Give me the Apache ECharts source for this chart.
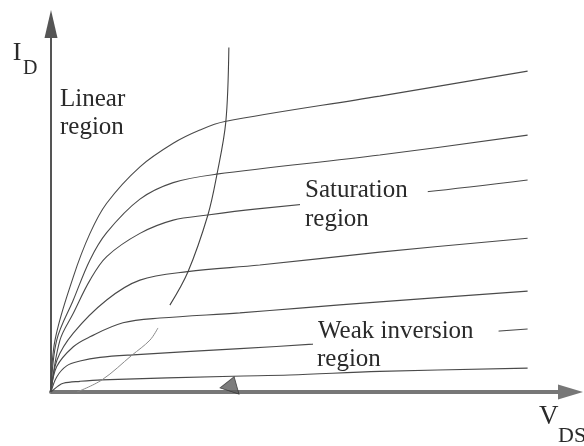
<!DOCTYPE html>
<html>
<head>
<meta charset="utf-8">
<script src="https://cdn.jsdelivr.net/npm/echarts@6/dist/echarts.min.js"></script>
<style>
  html, body { margin: 0; padding: 0; background: #fff; }
  #chart { width: 584px; height: 446px; }
</style>
</head>
<body>
<div id="chart"></div>
<script>
// MOSFET output characteristics: I_D versus V_DS for stepped gate voltages
// (arbitrary units, highest gate voltage first). Points are [V_DS, I_D].
const curveVgs7 = [[0,0],[0.042,14.1],[0.234,31.3],[0.409,43.1],[0.584,51.3],[0.933,61.2],[1.282,67.6],[1.562,71.2],[1.824,73.5],[3.449,80.4],[5.0,87.2]];
const curveVgs6 = [[0,0],[0.06,14.1],[0.234,25.0],[0.409,35.9],[0.584,43.3],[0.933,52.4],[1.282,56.9],[1.737,59.2],[3.449,64.4],[5.0,69.8]];
const curveVgs5 = [[0,0],[0.094,14.1],[0.234,21.4],[0.409,30.4],[0.584,36.8],[0.933,43.1],[1.282,46.7],[1.643,48.1],[2.138,49.7],[3.941,54.4],[5.0,57.6]];
const curveVgs4 = [[0,0],[0.063,8.7],[0.234,16.0],[0.584,25.0],[0.933,30.4],[1.433,32.7],[2.19,34.5],[3.449,38.0],[5.0,41.8]];
const curveVgs3 = [[0,0],[0.06,6.9],[0.234,12.3],[0.409,15.0],[0.755,18.8],[1.143,20.1],[1.981,21.5],[2.61,22.8],[3.449,24.5],[5.0,27.4]];
const curveVgs2 = [[0,0],[0.06,4.1],[0.164,7.1],[0.304,8.4],[0.514,9.4],[0.86,10.1],[1.981,11.8],[2.746,13.0],[5.0,17.1]];
const curveVgs1 = [[0,0],[0.073,1.6],[0.129,2.4],[0.304,2.9],[0.531,3.3],[1.908,4.3],[2.505,4.6],[3.449,5.6],[5.0,6.5]];

// Boundary between linear and saturation operation (V_DS = V_GS - V_T)
const boundaryUpper = [[1.247,23.6],[1.436,32.6],[1.646,48.1],[1.74,59.0],[1.834,73.4],[1.866,93.6]];
const boundaryLower = [[0.273,0],[0.535,3.3],[0.849,10.0],[1.038,14.1],[1.122,17.4]];

// Small arrowhead resting on the V_DS axis
const axisPointer = [[1.897,2.2]];

const outputCurves = [curveVgs7, curveVgs6, curveVgs5, curveVgs4, curveVgs3, curveVgs2, curveVgs1];

const serif = '"Liberation Serif", "DejaVu Serif", serif';
const ink = '#2a2a2a';

const chart = echarts.init(document.getElementById('chart'), null, { renderer: 'canvas' });

const series = outputCurves.map(function (pts) {
  return {
    type: 'line',
    data: pts,
    smooth: 0.35,
    symbol: 'none',
    silent: true,
    lineStyle: { color: '#4a4a4a', width: 1.1 },
    z: 2
  };
});

series.push({
  type: 'line', data: boundaryUpper, smooth: 0.35,
  symbol: 'none', silent: true, lineStyle: { color: '#444', width: 1.1 }, z: 2
});
series.push({
  type: 'line', data: boundaryLower, smooth: 0.35,
  symbol: 'none', silent: true, lineStyle: { color: '#8a8a8a', width: 1 }, z: 2
});
series.push({
  type: 'scatter', data: axisPointer, symbol: 'triangle',
  symbolSize: [20, 15], symbolRotate: -18, silent: true,
  itemStyle: { color: '#5c5c5c', borderColor: '#333', borderWidth: 0.8 }, z: 4
});

chart.setOption({
  animation: false,
  backgroundColor: '#fff',
  grid: { left: 51, right: 13.5, top: 24, bottom: 54 },
  xAxis: {
    type: 'value', min: 0, max: 5.45,
    axisLine: {
      show: true, onZero: false,
      symbol: ['none', 'triangle'], symbolSize: [15, 25],
      lineStyle: { color: '#777', width: 4 }
    },
    axisTick: { show: false }, axisLabel: { show: false }, splitLine: { show: false }
  },
  yAxis: {
    type: 'value', min: 0, max: 100,
    axisLine: {
      show: true, onZero: false,
      symbol: ['none', 'triangle'], symbolSize: [13, 28],
      lineStyle: { color: '#555', width: 2 }
    },
    axisTick: { show: false }, axisLabel: { show: false }, splitLine: { show: false }
  },
  series: series,
  graphic: [
    { type: 'text', x: 12.7, y: 40, z: 10,
      style: { text: 'I', font: '26px ' + serif, fill: ink, textVerticalAlign: 'top' } },
    { type: 'text', x: 23, y: 59, z: 10,
      style: { text: 'D', font: '20px ' + serif, fill: ink, textVerticalAlign: 'top' } },
    { type: 'text', x: 539, y: 403, z: 10,
      style: { text: 'V', font: '27px ' + serif, fill: ink, textVerticalAlign: 'top' } },
    { type: 'text', x: 558, y: 425, z: 10,
      style: { text: 'DS', font: '22px ' + serif, fill: ink, textVerticalAlign: 'top' } },
    { type: 'text', x: 60, y: 85.5, z: 10,
      style: { text: 'Linear\nregion', font: '25px ' + serif, lineHeight: 28, fill: ink, textVerticalAlign: 'top' } },
    { type: 'text', x: 300, y: 175, z: 10,
      style: { text: 'Saturation', font: '25px ' + serif, fill: ink, textVerticalAlign: 'top',
               backgroundColor: '#fff', padding: [3, 20, 5, 5] } },
    { type: 'text', x: 305, y: 207, z: 10,
      style: { text: 'region', font: '25px ' + serif, fill: ink, textVerticalAlign: 'top' } },
    { type: 'text', x: 313, y: 316, z: 10,
      style: { text: 'Weak inversion', font: '25px ' + serif, fill: ink, textVerticalAlign: 'top',
               backgroundColor: '#fff', padding: [3, 25, 5, 5] } },
    { type: 'text', x: 317, y: 347, z: 10,
      style: { text: 'region', font: '25px ' + serif, fill: ink, textVerticalAlign: 'top' } }
  ]
});
</script>
</body>
</html>
